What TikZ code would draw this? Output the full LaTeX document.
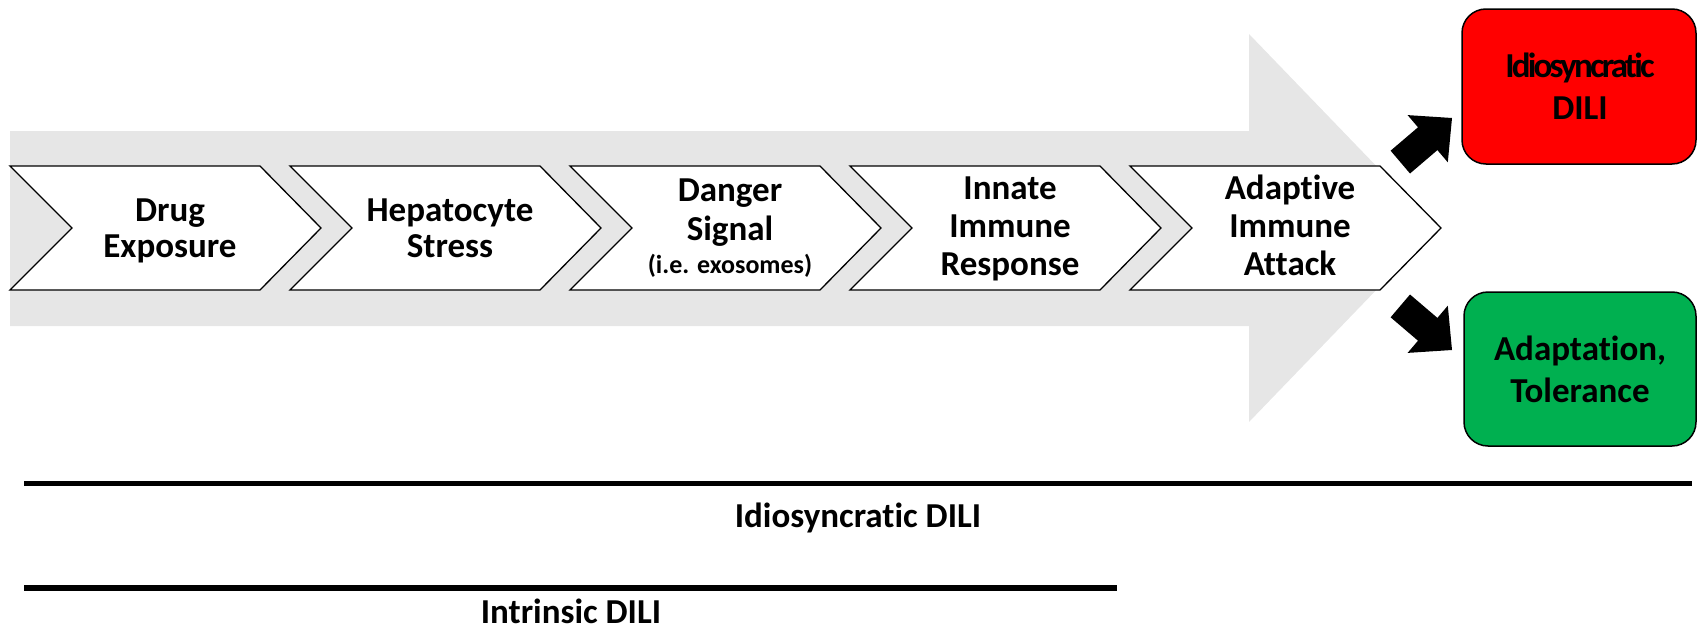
\documentclass[tikz,border=0pt]{standalone}
\usepackage{fontspec}
\setmainfont{Carlito}[Ligatures={CommonOff,ContextualOff}]
\definecolor{arrowgray}{RGB}{230,230,230}
\definecolor{boxred}{RGB}{255,0,0}
\definecolor{boxgreen}{RGB}{0,176,80}
\begin{document}
\begin{tikzpicture}[x=1pt,y=-1pt,
  txt/.style={font=\fontsize{35}{37}\selectfont\bfseries, anchor=base, inner sep=0pt},
  smalltxt/.style={font=\fontsize{26}{28}\selectfont\bfseries, anchor=base, inner sep=0pt},
  boxtxt/.style={font=\fontsize{35}{38}\selectfont\bfseries, anchor=base, inner sep=0pt},
  chev/.style={draw=black, line width=1.3pt, fill=white, line join=miter},
  fatarrow/.style={fill=black},
  outbox/.style={draw=black, line width=1.5pt, rounded corners=24pt},
  barline/.style={line width=5.5pt}]
\useasboundingbox (0,0) rectangle (1698,629);
% big gray arrow
\fill[arrowgray] (10,131) -- (1249,131) -- (1249,34) -- (1436,228) -- (1249,422) -- (1249,326) -- (10,326) -- cycle;
% chevrons
\foreach \L in {10,290,570,850,1130}{
  \draw[chev] (\L,166) -- ({\L+250},166) -- ({\L+311},228) -- ({\L+250},290) -- (\L,290) -- ({\L+62},228) -- cycle;
}
% chevron texts
\node[txt] (c1a) at (170,221) {Drug};
\node[txt] (c1b) at (170,257) {Exposure};
\node[txt] (c2a) at (450,221) {Hepatocyte};
\node[txt] (c2b) at (450,257) {Stress};
\node[txt] (c3a) at (730,201) {Danger};
\node[txt] (c3b) at (730,240) {Signal};
\node[smalltxt] (c3c) at (730,273) {(i.e. exosomes)};
\node[txt] (c4a) at (1010,199) {Innate};
\node[txt] (c4b) at (1010,237) {Immune};
\node[txt] (c4c) at (1010,275) {Response};
\node[txt] (c5a) at (1290,199) {Adaptive};
\node[txt] (c5b) at (1290,237) {Immune};
\node[txt] (c5c) at (1290,275) {Attack};
% outcome boxes
\draw[outbox, fill=boxred] (1462,9) rectangle (1696,164);
\draw[outbox, fill=boxgreen] (1464,292) rectangle (1696,446);
\node[boxtxt] (r1) at (1580,77) {\addfontfeature{LetterSpace=-8}Idiosyncratic};
\node[boxtxt] (r2) at (1580,119) {DILI};
\node[boxtxt] (g1) at (1580,360) {Adaptation,};
\node[boxtxt] (g2) at (1580,402) {Tolerance};
% black block arrows
\fill[fatarrow] (1390.6,150.7) -- (1418,127.3) -- (1407.6,115.1) -- (1452,118) -- (1447.8,162.3) -- (1437.4,150.1) -- (1410,173.5) -- cycle;
\fill[fatarrow] (1390.6,317.3) -- (1418,340.7) -- (1407.6,352.9) -- (1452,350) -- (1447.8,305.7) -- (1437.4,317.9) -- (1410,294.5) -- cycle;
% bars
\coordinate (b1s) at (24,483.5);
\coordinate (b1e) at (1692,483.5);
\coordinate (b2s) at (24,588);
\coordinate (b2e) at (1117,588);
\draw[barline] (b1s) -- (b1e);
\draw[barline] (b2s) -- (b2e);
\node[txt] (l1) at (858,527) {Idiosyncratic DILI};
\node[txt] (l2) at (571,623) {Intrinsic DILI};
\end{tikzpicture}
\end{document}
